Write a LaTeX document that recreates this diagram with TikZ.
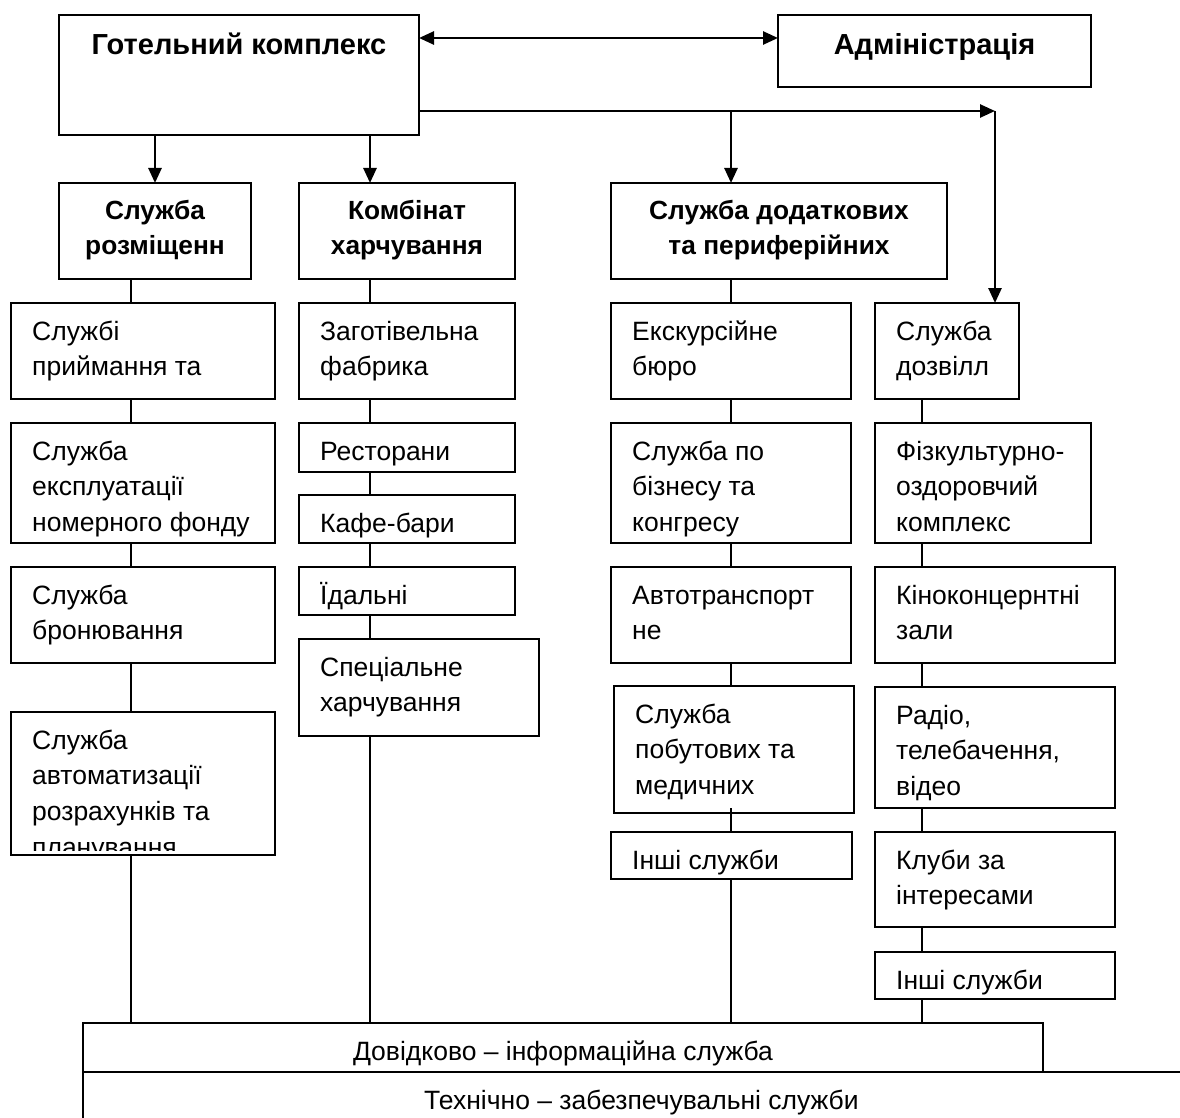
\documentclass[tikz,border=0pt]{standalone}
\usepackage{fontspec}
\setmainfont{Liberation Sans}
\usetikzlibrary{arrows.meta,calc}
\tikzset{
  bx/.style={draw, line width=1.9pt, fill=white, inner sep=0pt, outer sep=0pt},
  tx/.style={inner sep=0pt, align=left, font=\fontsize{26.5}{35.7}\selectfont},
  ctx/.style={inner sep=0pt, align=center, font=\fontsize{26.5}{35.7}\selectfont},
  btx/.style={inner sep=0pt, align=center, font=\fontsize{26.3}{35}\selectfont\bfseries},
  bbtx/.style={inner sep=0pt, align=center, font=\fontsize{29}{39.5}\selectfont\bfseries},
  conn/.style={line width=1.4pt},
  tipa/.tip={Triangle[length=15pt,width=13pt]},
  arr/.style={line width=2.6pt, -tipa},
  darr/.style={line width=2.6pt, tipa-tipa},
}
% left-aligned box: name, x1, y1, x2, y2, text
\newcommand\mybx[6]{%
  \node[bx, anchor=north west, minimum width={#4-#2}, minimum height={#5-#3}] (#1) at (#2,#3) {};
  \node[tx, anchor=north west] (#1t) at ($(#1.north west)+(21,12)$) {\strut #6};}
% bold centred box
\newcommand\mybbx[6]{%
  \node[bx, anchor=north west, minimum width={#4-#2}, minimum height={#5-#3}] (#1) at (#2,#3) {};
  \node[btx, anchor=north] (#1t) at ($(#1.north)+(0,12)$) {\strut #6};}
% large bold centred box
\newcommand\mybigbx[6]{%
  \node[bx, anchor=north west, minimum width={#4-#2}, minimum height={#5-#3}] (#1) at (#2,#3) {};
  \node[bbtx, anchor=north] (#1t) at ($(#1.north)+(0,12)$) {\strut #6};}
% regular centred box
\newcommand\mycbx[6]{%
  \node[bx, anchor=north west, minimum width={#4-#2}, minimum height={#5-#3}] (#1) at (#2,#3) {};
  \node[ctx, anchor=north] (#1t) at ($(#1.north)+(0,12)$) {\strut #6};}
\begin{document}
\begin{tikzpicture}[x=1pt,y=-1pt]
\clip (0,0) rectangle (1180,1118);
\fill[white] (0,0) rectangle (1180,1118);

\coordinate (k1) at (131,0);
\coordinate (k2) at (370,0);
\coordinate (k3) at (731,0);
\coordinate (k4) at (922,0);
\coordinate (ya) at (0,38);
\coordinate (yb) at (0,111);
\coordinate (corner) at (995,111);
\coordinate (pin) at (731,808);

% top level
\mybigbx{G}{59}{15}{419}{135}{Готельний комплекс}
\mybigbx{A}{778}{15}{1091}{87}{Адміністрація}
\mybbx{S1}{59}{183}{251}{279}{Служба\\розміщенн}
\mybbx{S2}{299}{183}{515}{279}{Комбінат\\харчування}
\mybbx{S3}{611}{183}{947}{279}{Служба додаткових\\та периферійних}

% column 1
\mybx{a1}{11}{303}{275}{399}{Службі\\приймання та}
\mybx{a2}{11}{423}{275}{543}{Служба\\експлуатації\\номерного фонду}
\mybx{a3}{11}{567}{275}{663}{Служба\\бронювання}
\node[bx, anchor=north west, minimum width=264, minimum height=143] (a4) at (11,712) {};
\begin{scope}
  \clip (11,712) rectangle (275,850);
  \node[tx, anchor=north west] (a4t) at ($(a4.north west)+(21,12)$) {\strut Служба\\автоматизації\\розрахунків та\\планування};
\end{scope}

% column 2
\mybx{b1}{299}{303}{515}{399}{Заготівельна\\фабрика}
\mybx{b2}{299}{423}{515}{472}{Ресторани}
\mybx{b3}{299}{495}{515}{543}{Кафе-бари}
\mybx{b4}{299}{567}{515}{615}{Їдальні}
\mybx{b5}{299}{639}{539}{736}{Спеціальне\\харчування}

% column 3
\mybx{c1}{611}{303}{851}{399}{Екскурсійне\\бюро}
\mybx{c2}{611}{423}{851}{543}{Служба по\\бізнесу та\\конгресу}
\mybx{c3}{611}{567}{851}{663}{Автотранспорт\\не}
\mybx{c4}{614}{686}{854}{813}{Служба\\побутових та\\медичних}
\mybx{c5}{611}{832}{852}{879}{Інші служби}

% column 4
\mybx{d1}{875}{303}{1019}{399}{Служба\\дозвілл}
\mybx{d2}{875}{423}{1091}{543}{Фізкультурно-\\оздоровчий\\комплекс}
\mybx{d3}{875}{567}{1115}{663}{Кіноконцернтні\\зали}
\mybx{d4}{875}{687}{1115}{808}{Радіо,\\телебачення,\\відео}
\mybx{d5}{875}{832}{1115}{927}{Клуби за\\інтересами}
\mybx{d6}{875}{952}{1115}{999}{Інші служби}

% bottom
\mycbx{e2}{83}{1072}{1200}{1140}{Технічно – забезпечувальні служби}
\mycbx{e1}{83}{1023}{1043}{1072}{Довідково – інформаційна служба}

% arrows
\draw[darr] (G.east |- ya) -- (A.west |- ya);
\draw[arr] (G.east |- yb) -- (corner);
\draw[arr] (corner) -- (d1.north -| corner);
\draw[arr] (G.south -| S1.north) -- (S1.north);
\draw[arr] (G.south -| k2) -- (S2.north -| k2);
\draw[arr] (yb -| k3) -- (S3.north -| k3);

% column connectors
\draw[conn] (S1.south -| k1) -- (a1.north -| k1);
\draw[conn] (a1.south -| k1) -- (a2.north -| k1);
\draw[conn] (a2.south -| k1) -- (a3.north -| k1);
\draw[conn] (a3.south -| k1) -- (a4.north -| k1);
\draw[conn] (a4.south -| k1) -- (e1.north -| k1);

\draw[conn] (S2.south -| k2) -- (b1.north -| k2);
\draw[conn] (b1.south -| k2) -- (b2.north -| k2);
\draw[conn] (b2.south -| k2) -- (b3.north -| k2);
\draw[conn] (b3.south -| k2) -- (b4.north -| k2);
\draw[conn] (b4.south -| k2) -- (b5.north -| k2);
\draw[conn] (b5.south -| k2) -- (e1.north -| k2);

\draw[conn] (S3.south -| k3) -- (c1.north -| k3);
\draw[conn] (c1.south -| k3) -- (c2.north -| k3);
\draw[conn] (c2.south -| k3) -- (c3.north -| k3);
\draw[conn] (c3.south -| k3) -- (c4.north -| k3);
\draw[conn] (pin) -- (c5.north -| k3);
\draw[conn] (c5.south -| k3) -- (e1.north -| k3);

\draw[conn] (d1.south -| k4) -- (d2.north -| k4);
\draw[conn] (d2.south -| k4) -- (d3.north -| k4);
\draw[conn] (d3.south -| k4) -- (d4.north -| k4);
\draw[conn] (d4.south -| k4) -- (d5.north -| k4);
\draw[conn] (d5.south -| k4) -- (d6.north -| k4);
\draw[conn] (d6.south -| k4) -- (e1.north -| k4);
\end{tikzpicture}
\end{document}
